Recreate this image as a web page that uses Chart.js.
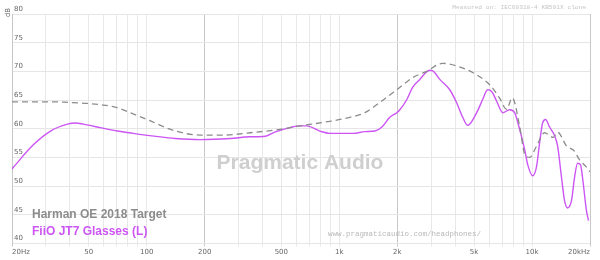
<!DOCTYPE html>
<html>
<head>
<meta charset="utf-8">
<script src="https://cdn.jsdelivr.net/npm/chart.js@4"></script>
<style>
html, body { margin: 0; padding: 0; background: #fff; }
</style>
</head>
<body>
<canvas id="frChart" width="600" height="260"></canvas>
<script>
// Harman OE 2018 target (Hz / dB)
const targetFreq = [20, 25, 32, 39, 50, 57, 70, 85, 104, 141, 190, 250, 344, 492, 624, 893, 1135, 1358, 1624, 1828, 1988, 2400, 2836, 3432, 4200, 4920, 6020, 6800, 7380, 7900, 8620, 9160, 9720, 10570, 11600, 12900, 13580, 15100, 16620, 17550, 19180, 20000];
const targetDb = [64.7, 64.7, 64.7, 64.6, 64.4, 64.2, 63.7, 62.6, 61.4, 59.6, 58.9, 58.9, 59.3, 59.9, 60.5, 61.3, 62.0, 62.8, 64.6, 65.9, 66.8, 68.9, 70.0, 71.4, 70.8, 69.8, 67.7, 65.3, 63.4, 65.4, 60.5, 55.6, 55.0, 57.0, 59.3, 58.5, 59.4, 57.0, 56.1, 54.7, 53.3, 52.5];

// FiiO JT7 Glasses (L) measurement
const jt7Freq = [20, 25.8, 31.7, 38.8, 42.7, 46.9, 57.5, 70.4, 85, 104, 141, 190, 272, 344, 413, 462, 554, 624, 678, 792, 893, 1068, 1183, 1358, 1532, 1663, 1828, 1988, 2061, 2241, 2400, 2617, 2836, 2948, 3056, 3320, 3742, 4068, 4370, 4638, 5162, 5545, 5888, 6176, 6556, 7040, 7656, 8124, 8625, 9157, 9493, 10077, 10567, 10950, 11350, 11760, 12340, 13100, 13580, 14230, 14750, 15290, 16040, 16620, 17240, 17870, 18290, 19180, 19650];
const jt7Db = [53.0, 57.2, 59.6, 60.8, 61.0, 60.8, 60.2, 59.6, 59.2, 58.8, 58.3, 58.1, 58.3, 58.6, 58.7, 59.4, 60.2, 60.5, 60.5, 59.6, 59.2, 59.2, 59.2, 59.5, 59.6, 60.3, 62.0, 62.8, 63.3, 65.1, 67.2, 68.6, 69.9, 70.2, 70.1, 68.6, 66.8, 64.5, 62.0, 60.6, 62.8, 65.1, 66.8, 66.5, 64.8, 62.8, 63.3, 62.8, 59.9, 56.4, 53.8, 51.8, 53.5, 57.5, 61.0, 61.6, 60.3, 58.8, 57.0, 51.5, 47.5, 46.2, 47.5, 51.5, 54.0, 53.7, 51.5, 45.7, 44.0];

const gridFreqs = [20, 30, 40, 50, 60, 70, 80, 90, 100, 200, 300, 400, 500, 600, 700, 800, 900, 1000, 2000, 3000, 4000, 5000, 6000, 7000, 8000, 9000, 10000, 20000];
const freqLabels = {20: '20Hz', 50: '50', 100: '100', 200: '200', 500: '500', 1000: '1k', 2000: '2k', 5000: '5k', 10000: '10k', 20000: '20kHz'};
const strongLines = [20, 200, 2000, 20000];

const seriesNames = ['Harman OE 2018 Target', 'FiiO JT7 Glasses (L)'];
const seriesColors = ['#8c8c8c', '#cc55f4'];

function toPoints(xs, ys) {
    return xs.map((x, i) => ({x: x, y: ys[i]}));
}

// watermark, legend and notes drawn onto the canvas
const notesPlugin = {
    id: 'notes',
    beforeDatasetsDraw(chart) {
        const ctx = chart.ctx;
        ctx.save();
        ctx.fillStyle = '#cfcfcf';
        ctx.font = 'bold 21px "Liberation Sans", Arial, sans-serif';
        ctx.textAlign = 'center';
        ctx.textBaseline = 'alphabetic';
        ctx.fillText('Pragmatic Audio', 300, 169);

        ctx.fillStyle = '#b8b8b8';
        ctx.font = '7.5px "Liberation Mono", monospace';
        ctx.textAlign = 'left';
        ctx.fillText('www.pragmaticaudio.com/headphones/', 328, 236);

        ctx.fillStyle = '#c4c4c4';
        ctx.font = '6.2px "Liberation Mono", monospace';
        ctx.textAlign = 'right';
        ctx.fillText('Measured on: IEC60318-4 KB501X clone', 586, 9);

        ctx.fillStyle = '#666';
        ctx.font = '7px "DejaVu Sans", sans-serif';
        ctx.translate(9.5, 12.5);
        ctx.rotate(-Math.PI / 2);
        ctx.textAlign = 'center';
        ctx.fillText('dB', 0, 0);
        ctx.restore();
    },
    afterDatasetsDraw(chart) {
        const ctx = chart.ctx;
        ctx.save();
        ctx.font = 'bold 12px "Liberation Sans", Arial, sans-serif';
        ctx.textAlign = 'left';
        ctx.fillStyle = seriesColors[0];
        ctx.fillText(seriesNames[0], 32, 218);
        ctx.fillStyle = seriesColors[1];
        ctx.fillText(seriesNames[1], 32, 235);
        ctx.restore();
    }
};

new Chart(document.getElementById('frChart'), {
    type: 'line',
    data: {
        datasets: [
            {
                label: seriesNames[0],
                data: toPoints(targetFreq, targetDb),
                borderColor: seriesColors[0],
                borderWidth: 1.3,
                borderDash: [6, 4],
                pointRadius: 0,
                cubicInterpolationMode: 'monotone'
            },
            {
                label: seriesNames[1],
                data: toPoints(jt7Freq, jt7Db),
                borderColor: seriesColors[1],
                borderWidth: 1.4,
                pointRadius: 0,
                cubicInterpolationMode: 'monotone'
            }
        ]
    },
    options: {
        responsive: false,
        animation: false,
        layout: {padding: {top: 14, right: 10, left: 0, bottom: 0}},
        plugins: {legend: {display: false}, tooltip: {enabled: false}},
        scales: {
            x: {
                type: 'logarithmic',
                min: 20,
                max: 20000,
                afterBuildTicks: s => { s.ticks = gridFreqs.map(v => ({value: v})); },
                afterFit: s => { s.height = 16.5; },
                ticks: {
                    autoSkip: false,
                    maxRotation: 0,
                    align: 'inner',
                    padding: 1,
                    color: '#666',
                    font: {size: 7, family: '"DejaVu Sans", sans-serif'},
                    callback: v => freqLabels[v] || ''
                },
                grid: {
                    tickLength: 3,
                    color: c => strongLines.includes(c.tick && c.tick.value) ? '#c8c8c8' : '#e8e8e8'
                },
                border: {display: false}
            },
            y: {
                min: 40,
                max: 80,
                afterFit: s => { s.width = 12; },
                ticks: {
                    stepSize: 5,
                    mirror: true,
                    padding: 2,
                    labelOffset: -5,
                    color: '#666',
                    font: {size: 7, family: '"DejaVu Sans", sans-serif'}
                },
                grid: {drawTicks: false, color: '#e6e6e6'},
                border: {display: true, color: '#c8c8c8'}
            }
        }
    },
    plugins: [notesPlugin]
});
</script>
</body>
</html>
